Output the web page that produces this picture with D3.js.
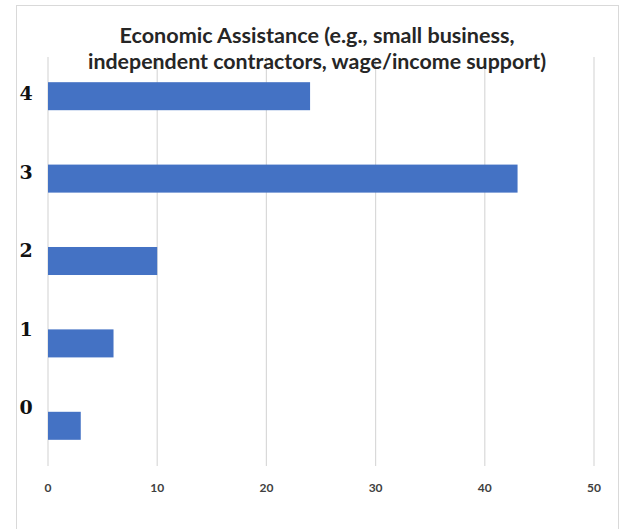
<!DOCTYPE html>
<html>
<head>
<meta charset="utf-8">
<script src="https://cdn.jsdelivr.net/npm/d3@7"></script>
<style>
  html, body { margin: 0; padding: 0; background: #fff; }
  svg { display: block; }
</style>
</head>
<body>
<svg id="chart" width="625" height="529"></svg>
<script>
const categories = ["0", "1", "2", "3", "4"];
const values = [3, 6, 10, 43, 24];
const xTicks = [0, 10, 20, 30, 40, 50];
const titleLines = ["Economic Assistance (e.g., small business,", "independent contractors, wage/income support)"];

const svg = d3.select("#chart");

// outer chart border
svg.append("rect")
  .attr("x", 16.5).attr("y", 5.5)
  .attr("width", 602).attr("height", 540)
  .attr("fill", "#fff").attr("stroke", "#d9d9d9").attr("stroke-width", 1);

const x = d3.scaleLinear().domain([0, 50]).range([48, 594]);
const y = d3.scaleBand().domain(categories.slice().reverse()).range([55, 467]).paddingInner(0.66).paddingOuter(0.33);
const yLabel = d3.scalePoint().domain(categories.slice().reverse()).range([93, 407]);

// gridlines
svg.append("g")
  .selectAll("line")
  .data(xTicks)
  .join("line")
  .attr("x1", d => x(d)).attr("x2", d => x(d))
  .attr("y1", 57).attr("y2", 466)
  .attr("stroke", "#d9d9d9").attr("stroke-width", 1.2);

// bars
svg.append("g")
  .selectAll("rect")
  .data(categories)
  .join("rect")
  .attr("x", x(0))
  .attr("y", d => y(d))
  .attr("width", (d, i) => x(values[i]) - x(0))
  .attr("height", y.bandwidth())
  .attr("fill", "#4472C4");

// x tick labels
svg.append("g")
  .selectAll("text")
  .data(xTicks)
  .join("text")
  .attr("x", d => x(d))
  .attr("y", 487)
  .attr("text-anchor", "middle")
  .attr("dominant-baseline", "central")
  .attr("font-family", "Lato, 'Open Sans', sans-serif")
  .attr("font-weight", "bold")
  .attr("font-size", 12)
  .attr("fill", "#404040")
  .text(d => d);

// y category labels
svg.append("g")
  .selectAll("text")
  .data(categories)
  .join("text")
  .attr("x", 26)
  .attr("y", d => yLabel(d))
  .attr("text-anchor", "middle")
  .attr("dominant-baseline", "central")
  .attr("font-family", "'DejaVu Serif', 'Liberation Serif', serif")
  .attr("font-weight", "bold")
  .attr("font-size", 19)
  .attr("fill", "#111")
  .text(d => d);

// title
const titleWidths = [395, 458];
svg.append("g")
  .selectAll("text")
  .data(titleLines)
  .join("text")
  .attr("x", 317)
  .attr("y", (d, i) => 34 + i * 26)
  .attr("text-anchor", "middle")
  .attr("dominant-baseline", "central")
  .attr("font-family", "Lato, 'Open Sans', sans-serif")
  .attr("font-weight", "bold")
  .attr("font-size", 21)
  .attr("textLength", (d, i) => titleWidths[i])
  .attr("lengthAdjust", "spacingAndGlyphs")
  .attr("fill", "#262626")
  .text(d => d);
</script>
</body>
</html>
